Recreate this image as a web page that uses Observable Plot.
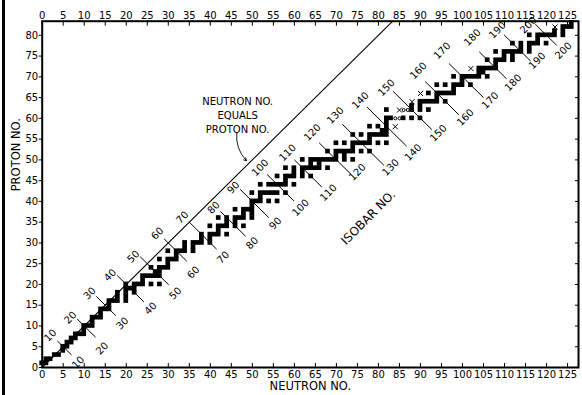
<!DOCTYPE html>
<html><head><meta charset="utf-8">
<script src="https://cdn.jsdelivr.net/npm/d3@7"></script>
<script src="https://cdn.jsdelivr.net/npm/@observablehq/plot@0.6"></script>
<style>
html,body{margin:0;padding:0;background:#fff;}
#wrap{position:relative;width:582px;height:395px;overflow:hidden;}
#wrap::before{content:"";position:absolute;left:2px;top:0;width:3px;height:395px;background:#000;}
</style></head><body><div id="wrap"></div>
<script>
// Proton numbers and, for each, the neutron numbers of the nuclides drawn as black squares
const protonNos = [1,2,3,4,5,6,7,8,9,10,11,12,13,14,15,16,17,18,19,20,21,22,23,24,25,26,27,28,29,30,31,32,33,34,35,36,37,38,39,40,41,42,44,45,46,47,48,49,50,51,52,53,54,55,56,57,58,59,60,62,63,64,65,66,67,68,69,70,71,72,73,74,75,76,77,78,79,80,81,82,83];
const neutronLists = [
  [0,1],[1,2],[3,4],[5],[5,6],[6,7],[7,8],[8,9,10],[10],[10,11,12],
  [12],[12,13,14],[14],[14,15,16],[16],[16,17,18,20],[18,20],[18,20,22],[20,21,22],[20,22,23,24,26,28],
  [24],[24,25,26,27,28],[27,28],[26,28,29,30],[30],[28,30,31,32],[32],[30,32,33,34,36],[34,36],[34,36,37,38,40],
  [38,40],[38,40,41,42,44],[42],[40,42,43,44,46,48],[44,46],[42,44,46,47,48,50],[48,50],[46,48,49,50],[50],[50,51,52,54,56],
  [52],[50,52,53,54,55,56,58],[52,54,55,56,57,58,60],[58],[56,58,59,60,62,64],[60,62],[58,60,62,63,64,65,66,68],[64,66],
  [62,64,65,66,67,68,69,70,72,74],[70,72],[68,70,71,72,73,74,76,78],[74],[70,72,74,75,76,77,78,80,82],[78],
  [74,76,78,79,80,81,82],[81,82],[78,80,82],[82],[82,83,86,88,90],[82,88,90,92],[88,90],[90,91,92,93,94,96],
  [94],[92,94,95,96,97,98],[98],[94,96,98,99,100,102],[100],[98,100,101,102,103,104,106],[104,105],
  [104,105,106,107,108],[108],[106,108,109,110,112],[110,112],[108,110,111,112,113,114,116],[114,116],
  [112,114,116,117,118,120],[118],[116,118,119,120,121,122,124],[122,124],[124,125,126],[126]
];
// nuclides marked with a cross
const crossN = [84,85,88,90,102,122];
const crossZ = [58,62,64,66,72,82];
// nuclides marked with a small circle
const circleN = [84,85,86,87];
const circleZ = [60,60,62,62];
// isobar lines: mass numbers and label positions (upper-left and lower-right ends)
const isobarNos = [10,20,30,40,50,60,70,80,90,100,110,120,130,140,150,160,170,180,190,200];
const upperLabelN = [2.0,6.7,11.3,16.2,21.7,27.4,33.4,40.8,45.5,51.9,58.4,64.3,69.8,75.7,81.9,89.5,95.2,102.4,108.3,115.7];
const upperLabelZ = [7.7,12.0,17.8,22.2,26.7,32.3,36.1,38.5,43.3,48.1,51.7,56.6,60.7,64.3,67.4,71.5,76.3,79.5,81.2,82.4];
const lowerLabelN = [8.6,14.3,19.1,25.8,31.7,36.0,43.1,50.0,55.5,61.5,68.1,75.0,82.9,88.3,94.3,100.7,106.6,112.1,117.8,124.0];
const lowerLabelZ = [1.2,4.6,10.6,14.2,17.8,22.9,26.5,29.9,34.7,38.5,42.1,47.0,48.2,51.8,56.4,60.2,64.3,68.6,73.9,76.3];
// axis ticks
const neutronTicks = d3.range(0, 126, 5);
const protonTicks = d3.range(0, 81, 5);
const neutronDomain = [0, 127.6];
const protonDomain = [0, 83.4];

const cells = [];
protonNos.forEach((z, i) => neutronLists[i].forEach(n => cells.push({n, z})));
const crosses = crossN.map((n, i) => ({n, z: crossZ[i]}));
const circles = circleN.map((n, i) => ({n, z: circleZ[i]}));
const gap = 1.6;
const isoLines = isobarNos.map((a, i) => ({a, n1: upperLabelN[i] + gap, n2: lowerLabelN[i] - gap}));
const labels = isobarNos.flatMap((a, i) => [
  {a, n: upperLabelN[i], z: upperLabelZ[i]},
  {a, n: lowerLabelN[i], z: lowerLabelZ[i]}
]);
const diag = [{n: 0, z: 0}, {n: protonDomain[1], z: protonDomain[1]}];

const font = "DejaVu Sans";
const chart = Plot.plot({
  width: 582, height: 395,
  marginLeft: 41.7, marginRight: 4, marginTop: 20.7, marginBottom: 28,
  x: {domain: neutronDomain},
  y: {domain: protonDomain},
  style: {fontFamily: font, fontSize: "9px", color: "#000", background: "#fff", overflow: "visible"},
  marks: [
    Plot.line(diag, {x: "n", y: "z", stroke: "#000", strokeWidth: 1.1}),
    Plot.link(isoLines, {x1: "n1", y1: d => d.a - d.n1, x2: "n2", y2: d => d.a - d.n2, stroke: "#000", strokeWidth: 1}),
    Plot.rect(cells, {x1: d => d.n - 0.5, x2: d => d.n + 0.5, y1: d => d.z - 0.5, y2: d => d.z + 0.5, fill: "#000", inset: -0.25}),
    Plot.dot(crosses, {x: "n", y: "z", symbol: "times", r: 2.4, stroke: "#000", strokeWidth: 1}),
    Plot.dot(circles, {x: "n", y: "z", r: 1.5, stroke: "#000", strokeWidth: 1, fill: "none"}),
    Plot.text(labels, {x: "n", y: "z", text: d => String(d.a), rotate: -45, fontSize: 10, fill: "#000"}),
    Plot.text(["NEUTRON NO.\nEQUALS\nPROTON NO."], {x: 46.5, y: 60.9, text: d => d, fontSize: 10, lineHeight: 1.37, fill: "#000"}),
    Plot.arrow([{x1: 46.3, y1: 56.6, x2: 48.6, y2: 49.8}], {x1: "x1", y1: "y1", x2: "x2", y2: "y2", bend: -25, headLength: 5, stroke: "#000", strokeWidth: 0.9}),
    Plot.text(["ISOBAR NO."], {x: 77.6, y: 36.1, text: d => d, rotate: -45, fontSize: 12, fill: "#000"}),
    Plot.frame({stroke: "#000", strokeWidth: 2}),
    Plot.axisX({anchor: "top", ticks: neutronTicks, tickSize: -4, tickPadding: 6, label: null, fontSize: 10}),
    Plot.axisX({anchor: "bottom", ticks: neutronTicks, tickSize: -4, tickPadding: 7, label: null, fontSize: 10}),
    Plot.axisY({anchor: "left", ticks: protonTicks, tickSize: 3, tickPadding: 1, label: null, fontSize: 10}),
    Plot.axisY({anchor: "right", ticks: protonTicks, tickSize: -4, tickPadding: 8, label: null, fontSize: 10}),
    Plot.text(["PROTON NO."], {frameAnchor: "left", dx: -26, dy: -3, rotate: -90, text: d => d, fontSize: 11.5, fill: "#000"}),
    Plot.text(["NEUTRON NO."], {frameAnchor: "bottom", dy: 22.5, text: d => d, fontSize: 11.5, fill: "#000"})
  ]
});
document.getElementById("wrap").appendChild(chart);
</script>
</body></html>
